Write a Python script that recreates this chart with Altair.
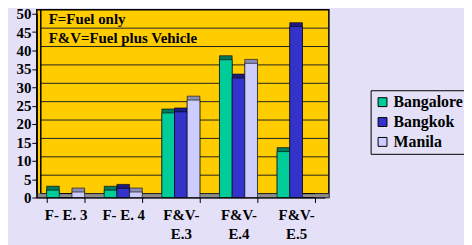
import altair as alt
import pandas as pd

cats = ["F- E. 3", "F- E. 4", "F&V-E.3", "F&V-E.4", "F&V-E.5"]
cities = ["Bangalore", "Bangkok", "Manila"]
bangalore = [2, 2, 23, 37.5, 12.5]
bangkok = [0, 2.5, 23.3, 32.5, 46.5]
manila = [1.5, 1.5, 26.5, 36.5, 0]
y_ticks = [0, 5, 10, 15, 20, 25, 30, 35, 40, 45, 50]
notes = ["F=Fuel only", "F&V=Fuel plus Vehicle"]

front_colors = ["#00CC99", "#3333CC", "#CCCCFF"]
side_colors = ["#007A5C", "#1C1C80", "#8C8CB4"]

rows = []
for ci, city in enumerate(cities):
    vals = [bangalore, bangkok, manila][ci]
    for cat, v in zip(cats, vals):
        rows.append({"cat": cat, "city": city, "val": v, "side": side_colors[ci]})
df = pd.DataFrame(rows)

W, H = 290, 185
PL, PT, PR, PB = 29, 5, 140, 47
FONT = "'Liberation Serif', 'Times New Roman', serif"

yscale = alt.Scale(domain=[0, 50], nice=False)

xs = alt.X("cat:N", sort=cats, title=None,
           scale=alt.Scale(domain=cats, paddingInner=0.34, paddingOuter=0.17),
           axis=alt.Axis(labelExpr="indexof(datum.label,'F&V-')==0 ? ['F&V-', substring(datum.label,4)] : datum.label",
                         labelAngle=0, labelFont=FONT, labelFontWeight="bold", labelFontSize=15,
                         labelColor="black", labelLineHeight=19, labelPadding=5,
                         tickBand="extent", tickSize=5, tickColor="black",
                         domainColor="black", grid=False, zindex=1))
yaxis = alt.Axis(values=y_ticks, labelFont=FONT, labelFontWeight="bold", labelFontSize=15,
                 labelColor="black", labelPadding=1, tickSize=5, tickColor="black",
                 domainColor="black", grid=False, zindex=1)
ys = alt.Y("val:Q", title=None, scale=yscale, axis=yaxis)

one = alt.Data(values=[{"a": 1}])

wall = alt.Chart(one).mark_rect(fill="#FFCC00", stroke="black", strokeWidth=1.5).encode(
    x=alt.value(0), x2=alt.value(W + 4), y=alt.value(-4), y2=alt.value(H))

floor = alt.Chart(one).mark_rect(fill="#8C8C8C", stroke="#555555", strokeWidth=0.5).encode(
    x=alt.value(0), x2=alt.value(W + 4), y=alt.value(H - 4), y2=alt.value(H))

grid = alt.Chart(pd.DataFrame({"val": y_ticks[:-1]})).mark_rule(
    color="#222222", strokeWidth=1, yOffset=-4).encode(
    y=ys, x=alt.value(4), x2=alt.value(W + 4))

back_edge = alt.Chart(one).mark_rule(color="black", strokeWidth=1.5).encode(
    x=alt.value(4), y=alt.value(-4), y2=alt.value(H - 4))

side = alt.Chart(df).mark_bar(xOffset=4, yOffset=-4, stroke="black", strokeWidth=0.6).encode(
    x=xs, xOffset=alt.XOffset("city:N", sort=cities), y=ys,
    color=alt.Color("side:N", scale=None))

front = alt.Chart(df).mark_bar(stroke="black", strokeWidth=0.6).encode(
    x=xs, xOffset=alt.XOffset("city:N", sort=cities), y=ys,
    color=alt.Color("city:N", sort=cities,
                    scale=alt.Scale(domain=cities, range=front_colors),
                    legend=alt.Legend(title=None, orient="none", legendX=336, legendY=77,
                                      strokeColor="black", padding=4, symbolType="square",
                                      symbolSize=80, symbolStrokeColor="black", symbolStrokeWidth=1,
                                      labelFont=FONT, labelFontWeight="bold", labelFontSize=16,
                                      labelColor="black", rowPadding=4, labelOffset=3)))

note1 = alt.Chart(pd.DataFrame({"t": [notes[0]]})).mark_text(
    align="left", baseline="middle", font=FONT, fontWeight="bold", fontSize=15, color="black"
).encode(text="t:N", x=alt.value(12), y=alt.value(5))
note2 = alt.Chart(pd.DataFrame({"t": [notes[1]]})).mark_text(
    align="left", baseline="middle", font=FONT, fontWeight="bold", fontSize=15, color="black"
).encode(text="t:N", x=alt.value(12), y=alt.value(24))

chart = alt.layer(wall, floor, grid, back_edge, side, front, note1, note2).properties(
    width=W, height=H,
    autosize=alt.AutoSizeParams(type="none"),
    padding={"left": PL, "top": PT, "right": PR, "bottom": PB},
    background="#E4E0F8",
).configure_view(stroke=None)

chart.save("out.html", embed_options={"renderer": "svg", "actions": False})
